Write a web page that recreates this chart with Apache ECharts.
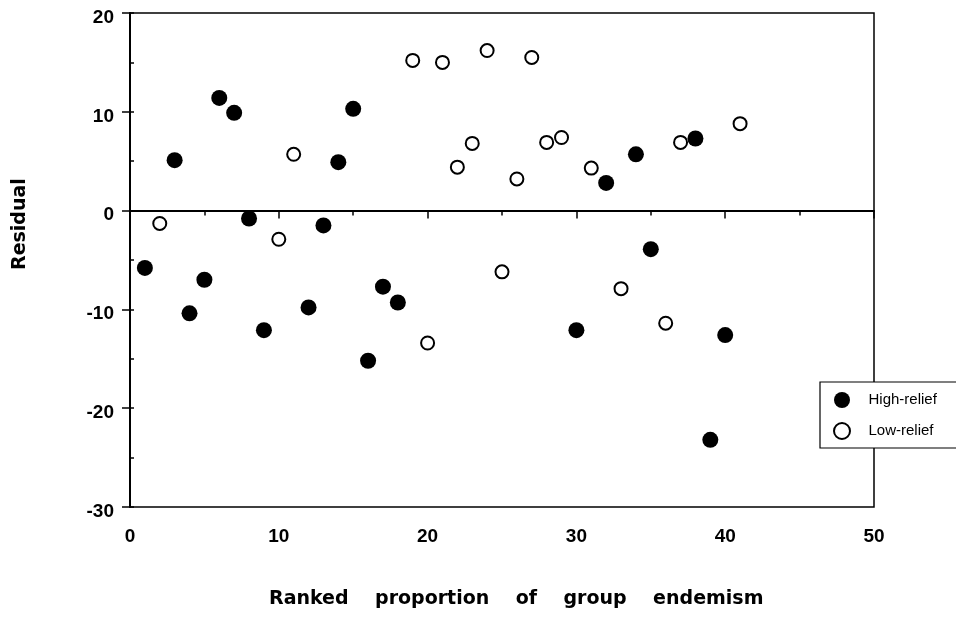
<!DOCTYPE html>
<html>
<head>
<meta charset="utf-8">
<script src="https://cdn.jsdelivr.net/npm/echarts@6/dist/echarts.min.js"></script>
<style>
  html, body { margin: 0; padding: 0; background: #fff; }
  #chart { width: 956px; height: 618px; }
</style>
</head>
<body>
<div id="chart"></div>
<script>
// ---- data ----
const highRank  = [1, 3, 4, 5, 6, 7, 8, 9, 12, 13, 14, 15, 16, 17, 18, 30, 32, 34, 35, 38, 39, 40];
const highResid = [-5.8, 5.1, -10.4, -7.0, 11.4, 9.9, -0.8, -12.1, -9.8, -1.5, 4.9, 10.3, -15.2, -7.7, -9.3, -12.1, 2.8, 5.7, -3.9, 7.3, -23.2, -12.6];
const lowRank   = [2, 10, 11, 19, 20, 21, 22, 23, 24, 25, 26, 27, 28, 29, 31, 33, 36, 37, 41];
const lowResid  = [-1.3, -2.9, 5.7, 15.2, -13.4, 15.0, 4.4, 6.8, 16.2, -6.2, 3.2, 15.5, 6.9, 7.4, 4.3, -7.9, -11.4, 6.9, 8.8];
const seriesNames = ['High-relief', 'Low-relief'];
const xTickLabels = ['0', '10', '20', '30', '40', '50'];
const yTickLabels = ['-30', '-20', '-10', '0', '10', '20'];
const xTitle = 'Ranked    proportion    of    group    endemism';
const yTitle = 'Residual';

const zip = (a, b) => a.map((v, i) => [v, b[i]]);

const chart = echarts.init(document.getElementById('chart'), null, { renderer: 'canvas' });

const tickFont = { fontFamily: '"Liberation Sans", Arial, sans-serif', fontWeight: 'bold', fontSize: 19, color: '#000' };

chart.setOption({
  backgroundColor: '#fff',
  animation: false,
  grid: {
    left: 130, right: 82, top: 13, bottom: 111,
    show: true, borderColor: '#000', borderWidth: 1.5, backgroundColor: 'transparent'
  },
  legend: {
    orient: 'vertical',
    left: 820, top: 382,
    padding: [10, 20, 10, 13],
    itemWidth: 43, itemHeight: 16, itemGap: 14,
    backgroundColor: 'transparent',
    borderWidth: 0,
    z: 20,
    textStyle: { fontFamily: 'Liberation Sans, Arial, sans-serif', fontSize: 15, color: '#000' },
    data: seriesNames
  },
  xAxis: {
    type: 'value', min: 0, max: 50, interval: 10,
    axisLine: { show: true, lineStyle: { color: '#000', width: 2 } },
    axisTick: { show: true, length: 8, lineStyle: { color: '#000', width: 1.5 } },
    minorTick: { show: true, splitNumber: 2, length: 5, lineStyle: { color: '#000', width: 1.5 } },
    splitLine: { show: false },
    axisLabel: Object.assign({ margin: 20, formatter: v => xTickLabels[xTickLabels.indexOf(String(v))] }, tickFont)
  },
  yAxis: [{
    type: 'value', min: -30, max: 20, interval: 10,
    axisLine: { show: true, lineStyle: { color: '#000', width: 2 } },
    axisTick: { show: true, length: 8, lineStyle: { color: '#000', width: 1.5 } },
    splitLine: { show: false },
    axisLabel: Object.assign({ margin: 16, verticalAlign: 'top', lineHeight: 9, formatter: v => yTickLabels[yTickLabels.indexOf(String(v))] }, tickFont)
  }, {
    type: 'value', min: -30, max: 20, interval: 5, position: 'left',
    axisLine: { show: false },
    axisTick: { show: true, inside: true, length: 4, lineStyle: { color: '#000', width: 1.5 } },
    axisLabel: { show: false },
    splitLine: { show: false }
  }],
  graphic: [
    {
      type: 'rect', z: 15, silent: true,
      shape: { x: 820, y: 382, width: 160, height: 66 },
      style: { fill: '#fff', stroke: '#000', lineWidth: 1.2 }
    },
    {
      type: 'text', left: 519 - 250, top: 590,
      style: { text: xTitle, fontFamily: 'DejaVu Sans, sans-serif', fontWeight: 'bold', fontSize: 19, fill: '#000' }
    },
    {
      type: 'text', x: 11, y: 270, rotation: Math.PI / 2,
      style: { text: yTitle, fontFamily: 'DejaVu Sans, sans-serif', fontWeight: 'bold', fontSize: 19, fill: '#000' }
    }
  ],
  series: [{
    name: seriesNames[0],
    type: 'scatter',
    symbol: 'circle', symbolSize: 16,
    itemStyle: { color: '#000', opacity: 1 },
    data: zip(highRank, highResid),
    markLine: {
      silent: true, symbol: ['none', 'none'], label: { show: false },
      lineStyle: { color: '#000', width: 2, type: 'solid' },
      data: [{ yAxis: 0 }]
    },
    z: 3
  }, {
    name: seriesNames[1],
    type: 'scatter',
    symbol: 'circle', symbolSize: 13,
    itemStyle: { color: '#fff', borderColor: '#000', borderWidth: 2, opacity: 1 },
    data: zip(lowRank, lowResid),
    z: 3
  }]
});
</script>
</body>
</html>
